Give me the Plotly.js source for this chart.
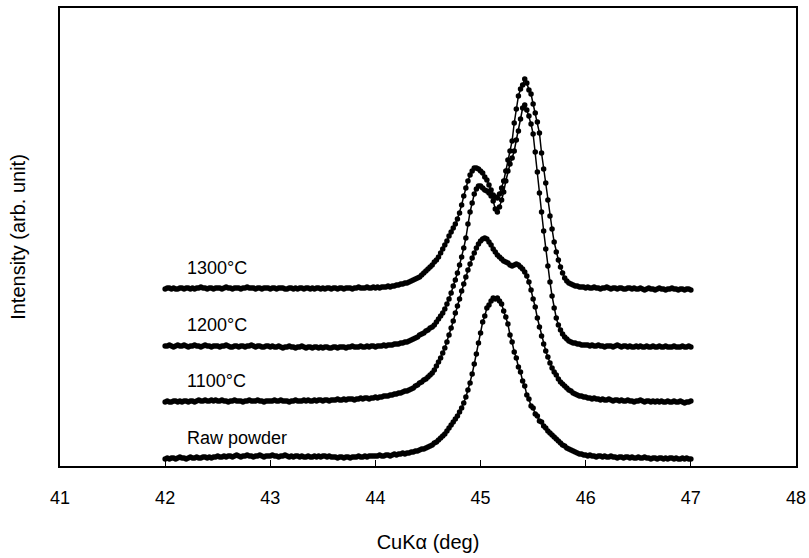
<!DOCTYPE html>
<html>
<head>
<meta charset="utf-8">
<script src="https://cdn.plot.ly/plotly-3.0.1.min.js"></script>
<style>
  html, body { margin: 0; padding: 0; background: #fff; }
  #chart { width: 809px; height: 558px; }
</style>
</head>
<body>
<div id="chart"></div>
<script>
// XRD scan: 2θ from 42.00° to 47.00° in 0.02° steps
const scanStart = 42.0;
const scanStep = 0.02;

const sampleLabels = ["Raw powder", "1100°C", "1200°C", "1300°C"];

// Intensities (arb. unit) above each pattern's own baseline
const rawPowder = [
  0,1,0,1,1,0,1,2,1,1,
  0,1,2,1,1,2,1,1,2,2,
  1,2,1,2,2,3,2,2,3,2,
  3,3,2,3,4,3,2,3,3,4,
  3,3,2,3,3,4,3,2,3,3,
  3,4,3,3,2,3,3,4,3,2,
  3,2,3,3,2,3,2,2,3,2,
  2,3,2,3,2,3,3,2,3,2,
  2,2,1,2,2,1,2,2,1,2,
  2,2,3,2,2,3,2,3,3,3,
  3,3,4,3,3,4,4,3,4,5,
  4,5,5,6,5,6,6,7,7,8,
  8,9,10,10,11,12,13,14,16,17,
  19,21,23,25,28,31,34,37,40,43,
  47,51,56,62,69,76,85,95,105,116,
  126,137,143,151,154,158,161,160,161,158,
  155,148,142,135,124,117,107,101,92,87,
  78,73,64,60,53,51,45,43,38,37,
  33,31,28,26,24,22,20,18,16,14,
  13,11,10,9,8,7,6,5,5,4,
  4,3,4,3,3,2,3,3,2,3,
  2,2,3,2,2,1,2,2,1,2,
  2,1,2,1,1,2,1,1,2,1,
  1,0,1,1,0,1,1,0,1,0,
  1,1,0,1,0,0,1,0,1,0,
  0
];

const sintered1100 = [
  0,1,0,0,1,1,0,1,0,1,
  1,0,1,1,0,1,2,1,1,2,
  1,1,2,1,2,1,1,2,1,1,
  0,1,1,2,1,1,1,0,1,1,
  2,1,1,1,2,1,1,0,1,1,
  1,1,2,1,1,2,1,1,1,0,
  1,1,2,1,1,1,2,1,2,1,
  1,2,1,2,2,1,2,2,1,2,
  2,2,3,2,2,3,2,3,3,3,
  2,3,3,4,3,4,4,3,4,4,
  5,4,5,5,6,6,6,7,7,8,
  8,9,9,10,11,11,12,13,14,16,
  17,19,20,22,23,25,27,29,32,36,
  40,44,49,54,60,67,74,81,89,96,
  103,111,118,125,132,138,144,149,154,158,
  161,163,164,163,160,157,153,150,147,145,
  143,141,140,139,137,136,137,138,137,135,
  133,130,126,120,112,103,95,84,75,66,
  58,51,45,39,34,30,27,23,20,18,
  16,14,12,11,9,8,7,6,6,5,
  5,4,4,3,4,3,3,2,3,2,
  2,3,2,1,2,2,1,2,1,1,
  2,1,1,0,1,1,2,1,0,1,
  1,0,1,0,1,0,1,0,0,1,
  0,0,1,0,0,1,0,-1,0,0,
  1
];

const sintered1200 = [
  0,0,1,0,-1,0,1,0,0,1,
  0,-1,0,0,1,0,0,-1,0,1,
  0,0,-1,0,0,0,-1,0,0,1,
  0,-1,-1,0,0,-1,0,0,-1,0,
  0,1,0,-1,0,0,-1,-1,0,0,
  -1,0,-1,-1,0,-1,-2,-1,-1,0,
  -1,-1,-2,-1,-1,0,-1,-2,-1,-1,
  -2,-1,-1,-2,-1,-2,-1,-1,-2,-2,
  -1,-1,-2,-1,-1,-1,-2,-1,-1,0,
  -1,-1,-1,0,-1,-1,0,-1,0,0,
  -1,0,0,0,1,0,1,1,1,2,
  2,2,3,3,4,4,5,6,7,8,
  9,11,12,13,15,16,18,19,21,24,
  27,30,33,37,42,47,53,60,66,73,
  81,89,98,108,122,134,143,152,157,160,
  160,158,156,155,153,150,145,137,134,139,
  146,154,165,175,182,188,195,206,215,227,
  238,241,236,230,222,212,194,174,153,134,
  115,97,80,64,50,38,28,21,16,12,
  9,7,5,4,3,3,2,2,1,1,
  1,1,0,1,0,0,1,0,0,-1,
  0,0,0,-1,0,1,0,-1,0,0,
  -1,0,-1,-1,0,-1,0,-1,-1,0,
  -1,-1,0,-1,-1,0,-1,-1,0,-1,
  -1,-1,0,-1,-1,-1,0,-1,-1,0,
  -1
];

const sintered1300 = [
  0,1,1,0,1,0,0,1,1,0,
  1,1,0,1,0,1,1,2,1,1,
  0,1,1,0,1,1,1,0,1,2,
  1,1,0,1,1,1,0,1,1,2,
  1,1,1,0,1,1,0,1,1,1,
  0,1,1,0,1,1,1,0,0,1,
  1,0,1,0,1,1,0,1,1,0,
  1,0,1,1,0,1,0,1,1,0,
  1,1,0,1,1,0,1,1,1,0,
  1,1,2,1,1,1,2,1,1,2,
  1,2,1,2,2,2,3,2,3,3,
  4,4,5,5,6,6,7,8,9,10,
  11,12,14,16,18,20,22,24,27,29,
  32,36,40,44,48,53,57,61,65,70,
  76,84,93,101,108,114,118,121,121,120,
  118,116,112,109,104,99,94,92,91,95,
  101,108,118,129,138,148,166,180,193,200,
  204,210,206,199,195,185,176,167,156,136,
  120,106,89,73,60,47,37,29,22,16,
  11,8,6,5,4,3,3,2,2,2,
  1,2,1,1,2,1,1,0,1,1,
  2,1,0,1,1,0,1,1,0,0,
  1,1,0,1,0,0,1,0,-1,0,
  1,0,0,-1,0,1,0,0,-1,0,
  0,1,0,0,-1,0,0,-1,0,0,
  -1
];

// Vertical stacking offsets between patterns (arb. unit)
const stackOffsets = [0, 57, 113, 170];

const patterns = [rawPowder, sintered1100, sintered1200, sintered1300];

const traces = patterns.map((counts, k) => ({
  x: counts.map((_, i) => +(scanStart + i * scanStep).toFixed(2)),
  y: counts.map(v => v + stackOffsets[k]),
  type: "scatter",
  mode: "lines+markers",
  name: sampleLabels[k],
  line: { color: "#000", width: 1.5 },
  marker: { color: "#000", size: 5.5 },
  showlegend: false,
  hoverinfo: "x+y+name"
}));

const font = { family: "Liberation Sans, Arial, sans-serif", size: 18, color: "#000" };
const titleFont = { family: "Liberation Sans, Arial, sans-serif", size: 20, color: "#000" };

const annotations = sampleLabels.map((label, k) => ({
  x: 42.19,
  y: stackOffsets[k] + 21,
  xref: "x",
  yref: "y",
  text: label,
  showarrow: false,
  xanchor: "left",
  yanchor: "middle",
  font: font
}));

const layout = {
  width: 809,
  height: 558,
  margin: { l: 60, r: 13, t: 8, b: 92 },
  paper_bgcolor: "#fff",
  plot_bgcolor: "#fff",
  font: font,
  xaxis: {
    range: [41, 48],
    tick0: 41,
    dtick: 1,
    ticks: "inside",
    ticklen: 6,
    tickwidth: 1,
    tickcolor: "#000",
    ticklabelstandoff: 14,
    showline: true,
    linecolor: "#000",
    linewidth: 2,
    mirror: true,
    showgrid: false,
    zeroline: false,
    tickfont: font,
    title: { text: "CuKα (deg)", font: titleFont, standoff: 28 }
  },
  yaxis: {
    range: [-7, 451],
    showticklabels: false,
    ticks: "",
    showline: true,
    linecolor: "#000",
    linewidth: 2,
    mirror: true,
    showgrid: false,
    zeroline: false,
    title: { text: "Intensity (arb. unit)", font: titleFont, standoff: 27 }
  },
  annotations: annotations
};

Plotly.newPlot("chart", traces, layout, { staticPlot: true, displayModeBar: false });
</script>
</body>
</html>
